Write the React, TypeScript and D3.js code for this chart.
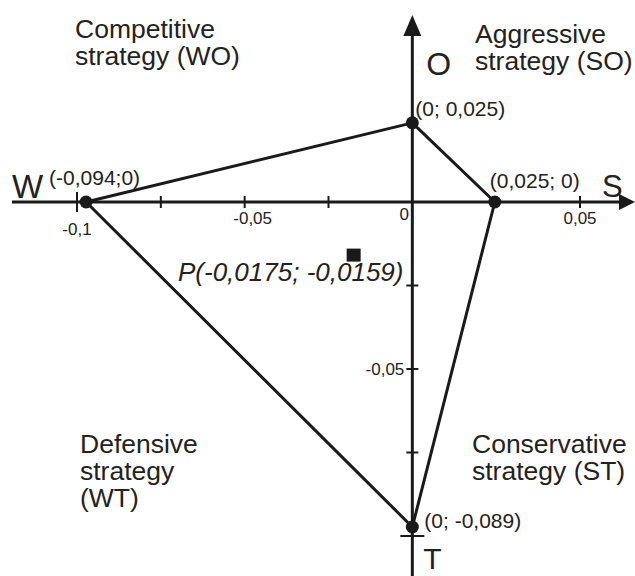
import React from 'react';
import * as d3 from 'd3';

const WIDTH = 635;
const HEIGHT = 576;

// axis ticks
const xTickValues = [-0.1, -0.075, -0.05, -0.025, 0.025, 0.05];
const yTickValues = [-0.025, -0.05, -0.075, -0.1];
const xLabelValues = [-0.1, -0.05, 0, 0.05];
const xLabelTexts = ['-0,1', '-0,05', '0', '0,05'];
const yLabelValues = [-0.05];
const yLabelTexts = ['-0,05'];

// strategy polygon vertices (as placed in the reference drawing) and their labels
const vertexNames = ['W', 'O', 'S', 'T'];
const vertexX = [-0.0973, 0, 0.0246, 0];
const vertexY = [0, 0.0237, 0, -0.0973];
const vertexLabels = ['(-0,094;0)', '(0; 0,025)', '(0,025; 0)', '(0; -0,089)'];

// resulting point
const pointX = -0.0175;
const pointY = -0.0159;
const pointLabel = 'P(-0,0175; -0,0159)';

// quadrant names
const quadrantLines = [
  ['Competitive', 'strategy (WO)'],
  ['Aggressive', 'strategy (SO)'],
  ['Defensive', 'strategy', '(WT)'],
  ['Conservative', 'strategy (ST)'],
];

const FONT = "'Liberation Sans', Arial, Helvetica, sans-serif";
const INK = '#1a1a1a';
const TXT = '#222';

export default function App() {
  const x = d3.scaleLinear().domain([-0.1, 0.05]).range([77, 580]);
  const y = d3.scaleLinear().domain([0.025, -0.1]).range([118.5, 536]);
  const x0 = x(0);
  const y0 = y(0);

  const pts: [number, number][] = vertexX.map((v, i) => [x(v), y(vertexY[i])]);
  const polygon = d3.line()(pts.concat([pts[0]])) as string;

  const quadPos = [
    { x: 75, y: 38 },
    { x: 475, y: 43 },
    { x: 80, y: 453 },
    { x: 472, y: 453 },
  ];
  const vLabelPos = [
    { dx: -37, dy: -17 },
    { dx: 3, dy: -7 },
    { dx: -5, dy: -14 },
    { dx: 12, dy: 1 },
  ];

  return (
    <svg
      width={WIDTH}
      height={HEIGHT}
      style={{ position: 'absolute', left: 0, top: 0, background: '#fff' }}
      fontFamily={FONT}
    >
      <rect width={WIDTH} height={HEIGHT} fill="#fff" />
      {/* horizontal axis */}
      <line x1={12} y1={y0} x2={622} y2={y0} stroke={INK} strokeWidth={3} />
      <path d={`M${635},${y0} L${619},${y0 - 8} L${619},${y0 + 8} Z`} fill={INK} />
      {/* vertical axis */}
      <line x1={x0} y1={30} x2={x0} y2={HEIGHT} stroke={INK} strokeWidth={3} />
      <path d={`M${x0},${15} L${x0 - 9},${36} L${x0 + 9},${36} Z`} fill={INK} />

      {/* x ticks */}
      {xTickValues.map((v) => {
        const long = v === -0.1;
        return (
          <line key={'xt' + v} x1={x(v)} x2={x(v)} y1={y0 - (long ? 10 : 6)} y2={y0 + (long ? 10 : 6)} stroke={INK} strokeWidth={2} />
        );
      })}
      {/* y ticks */}
      {yTickValues.map((v) => {
        const long = v === -0.1;
        return (
          <line key={'yt' + v} x1={x0 - (long ? 12 : 6)} x2={x0 + (long ? 12 : 6)} y1={y(v)} y2={y(v)} stroke={INK} strokeWidth={2} />
        );
      })}

      {/* x tick labels */}
      {xLabelValues.map((v, i) => {
        let tx = x(v);
        let ty = y0 + 22;
        if (v === -0.1) ty = y0 + 33;
        if (v === -0.05) tx += 8;
        if (v === 0) { tx -= 8; ty = y0 + 18; }
        return (
          <text key={'xl' + v} x={tx} y={ty} fontSize={17} textAnchor="middle" fill={TXT}>
            {xLabelTexts[i]}
          </text>
        );
      })}
      {/* y tick labels */}
      {yLabelValues.map((v, i) => (
        <text key={'yl' + v} x={x0 - 8} y={y(v) + 6} fontSize={17} textAnchor="end" fill={TXT}>
          {yLabelTexts[i]}
        </text>
      ))}

      {/* strategy polygon */}
      <path d={polygon} fill="none" stroke={INK} strokeWidth={3} strokeLinejoin="round" />
      {pts.map((p, i) => (
        <circle key={'c' + i} cx={p[0]} cy={p[1]} r={6.5} fill={INK} />
      ))}
      {pts.map((p, i) => (
        <text
          key={'vl' + i}
          x={p[0] + vLabelPos[i].dx}
          y={p[1] + vLabelPos[i].dy}
          fontSize={21}
          fill={TXT}
        >
          {vertexLabels[i]}
        </text>
      ))}

      {/* axis letters */}
      <text x={12} y={y0 - 4} fontSize={33} fill={TXT}>{vertexNames[0]}</text>
      <text x={x0 + 14} y={75} fontSize={32} fill={TXT}>{vertexNames[1]}</text>
      <text x={602} y={y0 - 5} fontSize={31} fill={TXT}>{vertexNames[2]}</text>
      <text x={x0 + 11} y={HEIGHT - 7} fontSize={30} fill={TXT}>{vertexNames[3]}</text>

      {/* point P */}
      <rect x={x(pointX) - 7} y={y(pointY) - 6.5} width={14} height={13} fill={INK} />
      <text x={178} y={y(pointY) + 26} fontSize={26} fontStyle="italic" fill={TXT}>
        {pointLabel}
      </text>

      {/* quadrant labels */}
      {quadrantLines.map((lines, qi) => (
        <text key={'q' + qi} x={quadPos[qi].x} y={quadPos[qi].y} fontSize={26.5} fill={TXT}>
          {lines.map((l, li) => (
            <tspan key={li} x={quadPos[qi].x} dy={li === 0 ? 0 : 27}>
              {l}
            </tspan>
          ))}
        </text>
      ))}
    </svg>
  );
}
